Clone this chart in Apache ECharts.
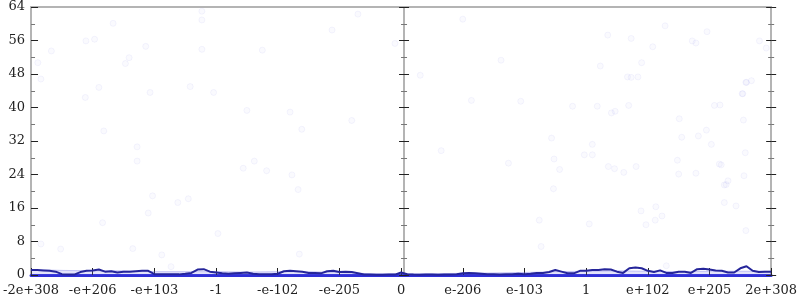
<!DOCTYPE html>
<html>
<head>
<meta charset="utf-8">
<script src="https://cdn.jsdelivr.net/npm/echarts@6/dist/echarts.min.js"></script>
<style>html,body{margin:0;padding:0;background:#fff;}#c{width:800px;height:300px;}</style>
</head>
<body>
<div id="c"></div>
<script>
// x tick labels (12 segments of a symmetric log-like scale)
var tickLabels = ['-2e+308','-e+206','-e+103','-1','-e-102','-e-205','0','e-206','e-103','1','e+102','e+205','2e+308'];
// dark line: sampled every 0.1 segment
var lineStep = 0.1;
var lineVals = [1.2,1.2,1.1,1.0,0.8,0.2,0.1,0.1,0.7,1.0,
  1.1,1.3,0.8,0.9,0.6,0.8,0.8,0.9,1.0,1.0,
  0.2,0.15,0.15,0.2,0.15,0.3,0.5,1.3,1.4,0.8,
  0.6,0.4,0.3,0.4,0.5,0.6,0.3,0.2,0.2,0.2,
  0.3,0.9,1.0,0.9,0.8,0.5,0.5,0.4,0.9,1.0,
  0.7,0.8,0.7,0.4,0.1,0.1,0.05,0.05,0.1,0.1,
  0.6,0.2,0.1,0.05,0.1,0.1,0.05,0.1,0.1,0.2,
  0.4,0.5,0.4,0.3,0.2,0.2,0.1,0.2,0.2,0.3,
  0.2,0.3,0.5,0.5,0.7,1.2,0.8,0.4,0.4,1.0,
  1.0,1.2,1.2,1.4,1.3,0.8,0.5,1.6,1.8,1.6,
  1.0,0.7,1.1,0.5,0.5,0.8,0.8,0.5,1.4,1.5,
  1.3,1.1,1.0,0.6,0.6,1.6,2.1,1.0,0.7,0.8,0.8];
// light band: sampled every 0.5 segment
var bandStep = 0.5;
var bandVals = [1.3,1.1,1.0,1.0,0.8,0.8,0.8,0.7,0.8,0.8,0.6,0.3,0.3,0.3,0.4,0.5,0.6,0.8,0.9,1.0,0.9,0.8,0.9,0.9,0.9];
// faint scatter points [x, y]
var pointsX = [1.93,2.58,2.96,3.50,4.20,1.18,4.39,1.72,1.72,3.62,3.44,3.82,4.23,4.33,1.97,2.55,
  7.94,8.78,9.18,9.41,9.47,9.69,10.51,11.08,11.17,11.54,11.60,11.55,8.44,9.10,10.55,10.82,10.95,11.03,
  7.74,8.48,8.57,8.97,9.10,9.36,9.46,9.61,9.81,10.48,10.50,10.78,11.16,11.19,11.58,11.56,11.30,11.24,11.27,8.47,
  1.33,0.89,1.03,0.33,1.86,0.11,1.53,1.59,0.16,1.10,0.88,2.77,2.77,2.77,
  10.28,9.35,9.73,10.08,10.72,10.78,10.96,11.81,11.92,9.90,9.23,9.67,9.73,9.84,11.59,11.68,11.53,
  5.30,5.90,7.00,0.16,0.48,1.16,1.90,1.65,2.12,2.27,2.38,3.03,4.35,8.24,8.27,9.05,
  9.89,10.13,9.97,10.12,10.23,11.24,11.43,11.59,10.30,6.31,7.14,4.88,3.75,7.62,6.65,5.20];
var pointsY = [43.6,45.0,43.6,39.3,38.9,34.4,34.8,30.6,27.2,27.2,25.5,24.9,23.9,20.4,18.9,18.2,
  41.5,40.3,40.3,38.7,39.1,40.5,37.3,40.5,40.6,43.3,46.0,37.0,32.7,31.2,32.9,33.2,34.6,31.2,
  26.7,27.7,25.2,28.7,28.7,25.9,25.4,24.5,25.9,27.4,24.1,24.3,26.5,26.3,29.2,23.7,22.5,21.5,21.6,20.6,
  60.1,55.9,56.3,53.5,54.6,50.7,50.5,51.9,46.8,44.8,42.4,53.9,60.9,63.0,
  59.5,57.3,56.5,54.5,55.9,55.4,58.1,55.9,54.2,50.7,49.9,47.3,47.2,47.3,46.0,46.4,43.3,
  62.3,55.3,61.1,7.4,6.2,12.5,14.8,6.3,4.8,2.0,17.3,9.9,5.0,13.1,6.8,12.2,
  15.3,16.3,12.0,13.1,14.1,17.3,16.5,10.6,2.2,47.7,41.7,58.5,53.7,51.3,29.7,36.9];

var yMin = 0, yMax = 64, yInterval = 8;
var xMin = 0, xMax = 12, xInterval = 1;

var lineData = lineVals.map(function(v, i){ return [i * lineStep, v]; });
var bandData = bandVals.map(function(v, i){ return [i * bandStep, v]; });
var scatterData = pointsX.map(function(x, i){ return [x, pointsY[i]]; });

var font = 'DejaVu Serif';
var gray = '#b4b4b4';
var dark = '#222';

function yAx(extra){
  var base = {
    type:'value', min:yMin, max:yMax, interval:yInterval,
    axisLine:{show:true, lineStyle:{color:gray, width:2}},
    axisTick:{show:true, inside:true, length:5, lineStyle:{color:dark, width:1}},
    minorTick:{show:true, splitNumber:2, length:3, lineStyle:{color:'#777', width:1}},
    axisLabel:{show:false},
    splitLine:{show:false}
  };
  for (var k in extra) base[k] = extra[k];
  return base;
}

var chart = echarts.init(document.getElementById('c'), null, {renderer:'canvas'});
chart.setOption({
  animation:false,
  backgroundColor:'#fff',
  grid:{left:27, right:27, top:7, bottom:25},
  xAxis:[{
    type:'value', min:xMin, max:xMax, interval:xInterval, position:'bottom',
    axisLine:{show:true, onZero:false, lineStyle:{color:'#2f2fd8', width:3}},
    axisTick:{show:true, inside:true, length:7, lineStyle:{color:dark, width:1}},
    axisLabel:{show:true, margin:9, color:dark, fontFamily:font, fontSize:13,
      formatter:function(v){ return tickLabels[Math.round(v)]; }},
    splitLine:{show:false}
  },{
    type:'value', min:xMin, max:xMax, interval:xInterval, position:'top',
    axisLine:{show:true, onZero:false, lineStyle:{color:gray, width:2}},
    axisTick:{show:false}, axisLabel:{show:false}, splitLine:{show:false}
  }],
  yAxis:[
    yAx({position:'left', axisTick:{show:true, inside:true, length:7, lineStyle:{color:dark,width:1}},
         minorTick:{show:true, splitNumber:2, length:4, lineStyle:{color:'#777',width:1}},
         axisLabel:{show:true, margin:6, color:dark, fontFamily:font, fontSize:13}}),
    yAx({position:'left', offset:-373}),
    yAx({position:'left', offset:-373, axisTick:{show:true, inside:false, length:5, lineStyle:{color:dark,width:1}}}),
    yAx({position:'right'}),
    yAx({position:'right', axisTick:{show:true, inside:false, length:5, lineStyle:{color:dark,width:1}}})
  ],
  series:[{
    type:'scatter', data:scatterData, xAxisIndex:0, yAxisIndex:0,
    symbolSize:6,
    itemStyle:{color:'rgba(120,120,230,0.05)', borderColor:'rgba(120,120,230,0.09)', borderWidth:1},
    silent:true, z:1
  },{
    type:'line', data:bandData, xAxisIndex:0, yAxisIndex:0,
    showSymbol:false, lineStyle:{color:'rgba(110,110,230,0.35)', width:1},
    areaStyle:{color:'rgba(110,110,235,0.28)'}, z:2
  },{
    type:'line', data:lineData, xAxisIndex:0, yAxisIndex:0,
    showSymbol:false, lineStyle:{color:'#25259a', width:2}, z:3
  }]
});
</script>
</body>
</html>
